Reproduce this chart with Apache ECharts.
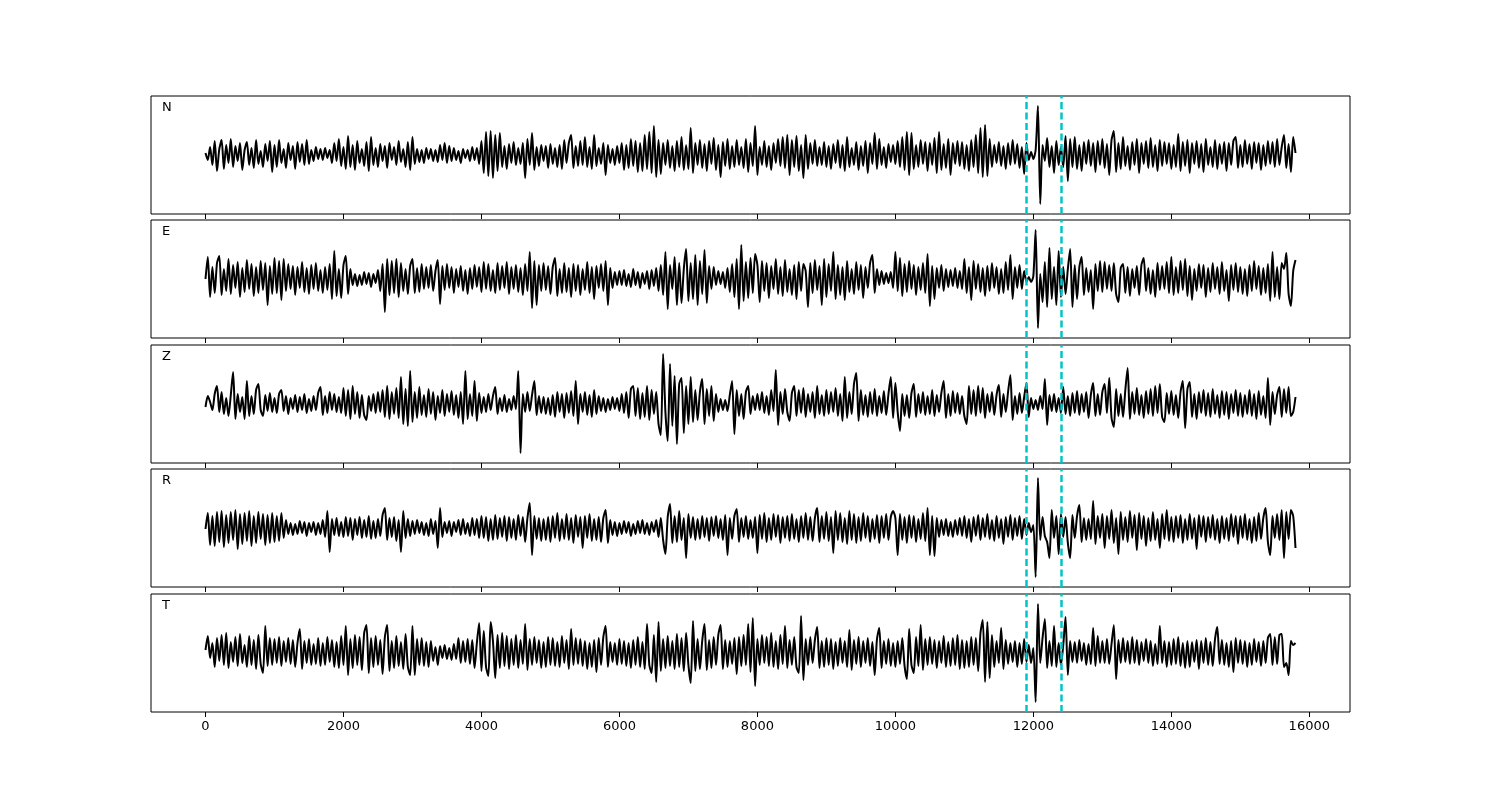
<!DOCTYPE html>
<html>
<head>
<meta charset="utf-8">
<script src="https://cdn.jsdelivr.net/npm/echarts@6/dist/echarts.min.js"></script>
<style>html,body{margin:0;padding:0;background:#fff}#c{width:1500px;height:800px}</style>
</head>
<body>
<div id="c"></div>
<script>
// Sample spacing: 30 samples per 1000 time units, samples 0..15800
const sampleStep = 1000 / 30;
const channels = ["N", "E", "Z", "R", "T"];
const xTicks = [0, 2000, 4000, 6000, 8000, 10000, 12000, 14000, 16000];
const picks = [11900, 12400];

const traceN = [
2,-5,8,-10,14,-16,6,15,-14,10,-8,16,-12,9,-6,12,-15,5,13,-10,7,-13,15,-9,4,-12,11,-6,14,-17,
10,-12,15,-8,6,-13,12,-5,9,-14,13,-7,11,-10,15,-9,5,-6,8,-4,6,-5,7,-3,5,-8,12,-6,16,-11,
8,-14,19,-12,10,-15,14,-8,6,-11,13,-16,18,-10,7,-12,11,-6,9,-13,12,-5,8,-10,14,-7,6,-12,13,-15,
18,-9,6,-7,5,-8,7,-4,6,-6,5,-7,10,-5,12,-8,9,-6,7,-5,4,-8,6,-3,5,-6,8,-5,7,-9,
14,-18,23,-21,24,-23,20,-16,22,-12,9,-14,11,-8,13,-10,7,-9,12,-23,16,-10,22,-15,8,-11,10,-6,9,-13,
11,-9,7,-12,10,-14,15,-8,12,20,-13,9,-11,14,-10,18,-12,8,-14,20,-11,7,-9,12,-20,10,-8,6,-10,9,
-8,12,-15,10,-13,16,-11,14,-17,12,-16,20,-14,23,-18,29,-22,15,-19,12,-10,15,-13,9,-16,14,-12,18,-15,10,
-14,27,-18,12,-10,15,-13,11,-16,14,-9,17,-15,10,-22,13,-11,16,-14,9,-12,15,-10,8,-13,16,-17,12,-11,29,
-20,8,-10,14,-12,9,-15,12,-8,16,-11,18,-13,20,-20,15,-12,19,-16,10,-23,20,-14,12,-9,15,-11,8,-10,13,
-12,9,-14,11,-8,15,-13,10,-16,18,-12,7,-10,13,-15,9,-11,14,-18,12,-9,22,-14,16,-10,8,-13,11,-7,10,
-9,14,-12,18,-15,23,-20,22,-14,10,-12,15,-9,13,-16,12,-10,17,-18,23,-15,11,-13,16,-20,12,-9,14,-11,13,
-14,10,-16,15,-12,20,-18,27,-22,30,-21,16,-12,10,-8,13,-11,9,-14,12,-10,15,-9,11,-13,8,-19,12,-5,3,
-4,5,49,-49,10,-6,17,-12,9,-18,14,-10,8,-12,19,-26,16,-12,18,-14,10,-16,13,-9,15,-11,12,-17,14,-10,
16,-13,11,-20,15,24,-17,12,-14,18,-11,9,-15,13,-10,16,-18,12,-9,14,-13,17,-12,10,-16,15,-11,13,-9,12,
-14,10,-12,21,-16,13,-11,15,-18,12,-9,14,-13,11,-17,16,-10,8,-12,15,-14,11,-9,13,-16,12,-10,14,18,-13,
10,-12,15,-9,11,-14,13,-8,12,-15,10,-11,14,-9,13,-12,16,-10,8,20,-13,11,-17,18,2
];

const traceE = [
0,22,-18,12,-14,16,23,-16,10,-12,20,-15,14,-9,17,-18,11,-13,19,-10,15,-17,12,-14,18,-11,16,-26,13,-15,
21,-14,18,-21,20,-12,15,-10,13,-16,12,-9,17,-13,11,-15,14,-10,16,-12,9,-14,12,-11,15,-20,28,-17,10,-19,
14,23,-15,10,-6,5,-7,4,-6,7,-5,6,-8,5,-4,9,-12,15,-33,20,-16,18,-14,20,-18,16,-12,10,-15,13,
20,-14,11,-13,15,-10,12,-9,14,-12,8,19,-25,13,-11,15,-9,12,-14,10,-8,13,-12,9,-15,11,-10,14,-8,12,
-13,17,-10,15,-12,9,-14,16,-11,13,-9,17,-15,12,-10,14,-13,11,-16,15,-12,27,-29,18,-26,14,-12,16,-11,13,
-15,12,21,-17,10,-14,16,-13,11,-18,15,-12,14,-16,10,-11,17,-14,12,-20,13,-9,15,-12,18,-26,11,-9,7,-6,
8,-6,9,-7,5,-8,10,-6,7,-9,6,-5,8,-10,9,-7,11,-12,14,-16,27,-30,14,-10,22,-26,16,-24,10,30,
-22,16,-20,24,-26,18,-15,29,-24,13,-10,12,-6,8,-5,7,-9,11,-13,15,-18,20,-30,34,-22,17,-19,21,-14,25,
14,-23,18,-12,16,-19,13,-10,20,-15,12,-17,19,-13,10,-16,14,-20,17,-12,15,8,-28,16,-14,19,-11,13,-26,20,
-18,15,-12,27,-20,14,-16,12,-21,18,-13,10,-15,17,-11,14,-19,12,-9,16,24,-14,10,-6,8,-5,6,-4,7,-9,
27,-12,21,-17,15,-13,18,-10,14,-16,12,-11,16,-14,25,-27,13,-20,11,-9,14,-12,10,-8,9,-7,11,-9,8,-10,
20,-14,12,-21,18,-10,15,-13,11,-17,13,-12,16,-9,12,-15,10,-14,17,-11,24,-20,12,-9,14,-10,8,-3,2,-3,
3,49,-49,5,-23,17,-28,31,-20,12,-26,28,-18,12,-15,10,30,-28,14,-20,12,22,-16,11,-13,9,-30,15,-12,18,
-13,17,-10,14,-12,16,-15,-23,11,15,-14,12,-17,10,-9,13,-16,14,21,-12,11,-15,9,-18,16,-11,13,-10,17,-14,
22,-16,12,-14,18,-11,20,-17,13,-21,10,-12,15,-9,14,-18,11,-13,16,-10,12,-15,17,-12,9,-22,14,-11,16,-13,
12,-15,10,-17,14,-12,18,-10,13,-16,11,-14,15,-22,27,-18,12,-20,16,10,26,-15,-27,8,19
];

const traceZ = [
-3,8,2,-6,10,18,-8,12,-10,6,-12,9,32,-15,10,-8,7,-15,23,-12,8,-10,14,20,-6,-12,9,-7,11,-8,
6,-9,10,14,-7,8,-10,6,-5,9,-8,7,-6,10,-9,5,-7,8,-6,11,17,-11,8,-9,12,-6,10,-8,7,-9,
16,-12,14,-15,18,-10,12,-14,9,-11,-16,8,-7,10,-9,12,-8,14,-13,18,-15,12,-10,16,-14,27,-20,15,-22,33,
-18,12,-14,17,-11,9,-13,15,-10,12,-16,8,-9,14,-12,10,-8,13,-11,9,-14,12,-20,33,-15,10,-12,23,-17,11,
-9,7,-8,10,-6,8,17,-10,6,-7,9,-8,5,-6,8,-5,33,-49,10,-8,12,-7,9,23,-11,8,-9,7,-10,6,
-11,9,-13,12,-8,10,-14,11,-9,13,-12,23,-20,10,-8,12,-11,9,-13,14,-10,8,-7,6,-8,5,-6,7,-5,6,
-7,10,-9,12,-14,15,18,-12,16,-15,11,-13,18,-16,14,-10,12,-20,-31,50,-8,-37,40,-22,28,-40,20,26,-29,18,
-20,27,-18,14,-16,12,25,-20,15,-12,18,-17,10,-8,5,-6,4,-7,9,23,-30,14,-12,10,-15,12,18,-10,8,-6,
10,-6,12,-9,8,-11,14,-7,34,-21,12,-10,15,-8,-17,11,18,-12,14,-9,16,-13,10,-8,12,-14,18,-10,9,-12,
14,-10,12,-8,16,-12,10,-17,27,-14,12,-10,20,31,-17,14,-11,9,-13,12,-10,15,-12,8,-9,13,-11,10,27,-14,
21,-8,-27,10,-12,9,-14,11,20,-13,10,-9,12,-11,8,-10,14,-12,9,-8,11,23,-14,10,-12,13,-9,11,-10,8,
-12,-20,18,-10,14,-12,18,-9,16,-14,10,-8,12,-11,9,19,-13,10,-8,12,29,-16,8,-10,11,-9,7,21,-13,6,
-5,4,-6,8,-5,25,-21,9,-7,10,-8,6,-9,17,-10,8,-12,11,-9,13,-11,10,-8,12,-14,9,21,-12,10,-11,
12,20,-9,26,-14,-23,15,-12,10,-13,14,36,-15,12,-10,16,-11,9,-14,13,-10,15,-12,18,-9,20,-13,-18,11,-10,
13,-11,9,-14,12,23,-24,15,22,-13,10,-15,12,-9,14,-12,11,-13,15,-10,9,-14,13,-11,12,-15,10,-9,14,-12,
11,-13,9,-10,14,-12,10,-15,13,-11,8,-14,26,-21,12,-10,9,17,-13,15,-9,17,-12,-8,7
];

const traceR = [
-1,15,-17,12,-18,16,-14,17,-19,13,-15,16,-12,18,-21,14,-16,15,-13,17,-18,12,-15,16,-11,14,-17,13,-15,15,
-14,12,-13,15,-10,8,-6,5,-7,4,-6,7,-5,6,-8,5,-4,6,-7,5,-6,8,-9,17,-24,9,-7,10,-8,6,
-9,11,-8,10,-12,9,-7,11,-10,8,-9,12,-11,7,-10,9,-8,13,20,-12,10,-9,11,-13,8,-24,17,-10,9,-8,
7,-6,8,-5,6,-7,5,-8,9,-6,7,-20,20,-9,6,-5,7,-8,6,-4,8,-7,9,-6,5,-8,10,-7,9,-10,
12,-10,11,-13,9,-12,13,-11,10,-9,12,-13,11,-10,9,-12,13,-8,11,-14,10,25,-27,12,-11,10,-13,9,-12,11,
-14,12,-10,15,-13,9,-11,14,-12,10,-15,13,-9,11,-20,12,-10,14,-13,9,-12,11,-14,10,18,-15,8,-7,6,-8,
5,-6,7,-5,6,-8,4,-6,7,-5,8,-6,5,-7,6,-4,8,-9,10,-12,-26,11,24,-15,12,-14,17,-12,10,-30,
14,-10,11,-12,9,-11,12,-9,10,-13,11,-8,12,-10,9,-12,13,-27,10,-11,12,19,-14,10,-9,12,-11,8,-10,11,
-25,13,-11,15,-14,10,-12,14,-9,13,-15,11,-10,12,-13,14,-11,9,-14,12,-10,15,-12,11,-13,10,20,-14,12,-11,
16,-13,11,-25,17,-12,15,-14,10,-16,17,-12,14,-15,11,-13,15,-10,12,-14,9,-11,13,-15,12,-10,14,-12,11,17,
10,-27,14,-12,11,-15,13,-10,12,-14,9,-11,15,-13,20,-27,12,-28,10,-9,8,-7,9,-8,6,-9,8,-7,10,-8,
12,-10,9,-14,11,-8,13,-12,10,-9,14,-11,8,-13,12,-10,9,-16,11,-9,13,-12,10,-8,12,-11,9,-7,5,-4,
3,-49,50,-12,11,-8,-14,-30,18,-10,12,-26,14,-9,11,-15,-30,13,-10,12,23,-14,10,-12,9,-11,27,-16,12,-10,
14,-20,12,-11,18,-15,10,-26,16,-12,11,-14,17,-10,13,-22,15,-11,12,-18,10,-13,16,-12,9,-20,14,-11,18,-13,
11,-14,12,-10,13,-15,9,-12,14,-11,10,-21,13,-9,12,-14,11,-10,13,-12,9,-15,12,-11,10,-13,14,-9,12,-16,
12,-10,14,-12,9,-15,11,-13,15,-11,10,20,-14,-27,12,-10,14,-12,18,-30,16,-11,18,12,-20
];

const traceT = [
3,17,-5,10,-14,15,-8,18,-12,20,-15,11,-9,16,-13,19,-10,8,-14,17,-12,13,-16,18,-11,-20,27,-13,15,-12,
14,-10,16,-13,12,-9,15,-11,13,-14,10,24,-16,12,-10,14,-12,9,-11,15,-13,10,-12,16,-9,13,-14,11,-15,17,
-12,27,-22,14,-15,18,-12,16,-17,20,28,-20,15,-14,17,-12,13,-21,16,28,-18,12,-15,17,-13,11,-16,19,-14,-22,
27,-22,14,-12,15,-13,11,-14,12,-8,6,-12,7,-5,8,-6,5,-7,9,-6,15,-10,12,-9,14,-11,13,-15,10,30,
-18,22,-14,-23,31,12,-25,18,-15,20,-13,17,-16,14,-12,18,-15,13,-11,29,-17,14,-12,16,-10,13,-15,11,-14,16,
-12,15,-13,11,-14,17,-10,13,-16,24,-12,15,-11,14,-13,12,-16,10,-14,13,-19,15,-12,16,27,-14,11,-9,10,-12,
14,-11,12,-13,10,-15,13,-12,16,-14,11,-16,29,-12,-20,18,-29,31,-18,14,-15,17,-13,12,-16,19,-14,15,-18,20,
-12,-30,32,-18,14,-16,12,29,-17,13,-15,16,-12,18,28,-16,13,-14,12,-11,15,-21,16,-13,18,-12,29,-19,35,-33,
14,-12,18,-10,16,-13,20,-14,12,-16,18,-11,27,-15,13,-12,16,-14,-20,37,-27,14,-12,16,-10,13,26,-15,12,-14,
15,-12,14,-16,11,-13,15,-10,12,-14,23,-17,13,-11,16,-14,12,-10,15,-13,11,-22,14,25,-15,12,-11,14,-13,10,
-14,12,-11,15,-13,-26,24,-12,-20,16,-13,28,-17,14,-12,16,-11,13,-15,12,-10,17,-14,11,-13,15,-12,18,-16,13,
-15,12,-14,16,-12,15,-18,20,33,-29,31,-25,18,-14,12,-10,25,-16,13,-11,10,-9,12,-14,10,-11,14,-9,8,-10,
5,-49,49,-10,15,34,-15,12,-13,27,-14,10,-12,8,36,-22,12,-9,11,-10,13,-8,10,-12,9,-11,25,-13,17,-10,
12,-10,14,-11,9,28,-26,13,-10,15,-9,12,-11,16,-10,13,-12,11,-8,14,-10,12,-13,9,-11,27,-10,12,-14,11,
-12,14,-11,16,-13,10,-15,12,-14,11,-9,13,-16,12,-10,15,-12,11,-13,14,26,-11,13,-12,10,-14,12,-19,15,-10,
13,-11,12,-14,10,-12,14,-9,11,-13,12,-10,15,19,-12,16,-11,18,19,-14,-10,-22,12,8,10
];

const traces = [traceN, traceE, traceZ, traceR, traceT];

const chart = echarts.init(document.getElementById('c'), null, {renderer: 'canvas'});
const panelTops = [96, 220, 345, 469, 594];
const panelH = 118;
const grids = [], xAxes = [], yAxes = [], series = [], graphics = [];
const FONT = "'DejaVu Sans', sans-serif";

traces.forEach((tr, k) => {
  grids.push({left: 151, width: 1199, top: panelTops[k], height: panelH,
    show: true, borderColor: '#000', borderWidth: 1, backgroundColor: 'transparent'});
  xAxes.push({
    type: 'value', gridIndex: k, min: -790, max: 16590, position: 'bottom',
    axisLine: {show: false, onZero: false},
    axisTick: {show: true, inside: false, length: 5, customValues: xTicks,
      lineStyle: {color: '#000', width: 1}},
    axisLabel: {show: k === 4, customValues: xTicks, margin: 8, color: '#000',
      fontFamily: FONT, fontSize: 13, formatter: v => String(v)},
    splitLine: {show: false}
  });
  yAxes.push({
    type: 'value', gridIndex: k, min: -59, max: 59,
    axisLine: {show: false}, axisTick: {show: false}, axisLabel: {show: false},
    splitLine: {show: false}
  });
  series.push({
    type: 'line', xAxisIndex: k, yAxisIndex: k,
    data: tr.map((v, i) => [i * sampleStep, v]),
    showSymbol: false, symbol: 'none', silent: true, smooth: 0.25,
    lineStyle: {color: '#000', width: 2},
    markLine: {
      silent: true, symbol: ['none', 'none'], label: {show: false},
      lineStyle: {color: '#00C5C8', width: 2.5, type: [7, 3.5]},
      data: picks.map(p => ({xAxis: p}))
    },
    z: 2
  });
  graphics.push({
    type: 'text', left: 162, top: panelTops[k] + 5,
    style: {text: channels[k], fill: '#000', font: "13px 'DejaVu Sans', sans-serif"}
  });
});

chart.setOption({
  animation: false,
  backgroundColor: '#fff',
  grid: grids, xAxis: xAxes, yAxis: yAxes, series: series,
  graphic: graphics
});
</script>
</body>
</html>
